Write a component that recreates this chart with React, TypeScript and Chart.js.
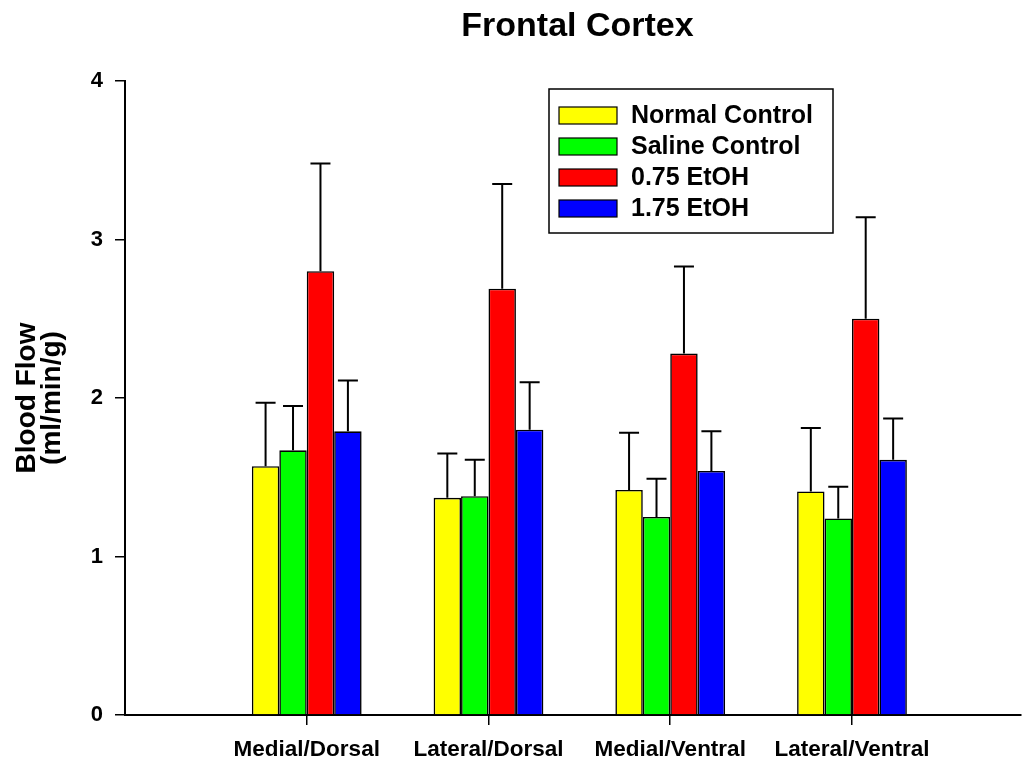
import React, { useEffect, useRef } from "react";
import { Chart, registerables } from "chart.js";

Chart.register(...registerables);

// Brain regions along the x axis and their positions on the linear index scale
const regions = ["Medial/Dorsal", "Lateral/Dorsal", "Medial/Ventral", "Lateral/Ventral"];
const regionPositions = [1, 2, 3, 4];

// Treatment groups
const groupNames = ["Normal Control", "Saline Control", "0.75 EtOH", "1.75 EtOH"];
const groupColors = ["#FFFF00", "#00FF00", "#FF0000", "#0000FF"];

// Mean blood flow (ml/min/g) per region
const normalControl = [1.57, 1.37, 1.42, 1.41];
const salineControl = [1.67, 1.38, 1.25, 1.24];
const etoh075 = [2.8, 2.69, 2.28, 2.5];
const etoh175 = [1.79, 1.8, 1.54, 1.61];

// Upper error (SEM) per region
const normalControlErr = [0.4, 0.28, 0.36, 0.4];
const salineControlErr = [0.28, 0.23, 0.24, 0.2];
const etoh075Err = [0.68, 0.66, 0.55, 0.64];
const etoh175Err = [0.32, 0.3, 0.25, 0.26];

const yTicks = [0, 1, 2, 3, 4];

const seriesValues = [normalControl, salineControl, etoh075, etoh175];
const seriesErrors = [normalControlErr, salineControlErr, etoh075Err, etoh175Err];

const FONT = "'Liberation Sans', Arial, Helvetica, sans-serif";

const titlePlugin = {
  id: "plotTitle",
  afterDraw(chart: any) {
    const { ctx } = chart;
    ctx.save();
    ctx.fillStyle = "#000";
    ctx.font = `bold 34px ${FONT}`;
    ctx.textAlign = "center";
    ctx.textBaseline = "middle";
    ctx.fillText("Frontal Cortex", 577.5, 27);
    ctx.restore();
  },
};

const errorBarPlugin = {
  id: "errorBars",
  afterDatasetsDraw(chart: any) {
    const { ctx } = chart;
    const yScale = chart.scales.y;
    chart.data.datasets.forEach((ds: any, di: number) => {
      const meta = chart.getDatasetMeta(di);
      const errs = seriesErrors[di];
      meta.data.forEach((bar: any, i: number) => {
        const top = yScale.getPixelForValue(seriesValues[di][i] + errs[i]);
        ctx.save();
        ctx.strokeStyle = "#000";
        ctx.lineWidth = 2;
        ctx.beginPath();
        ctx.moveTo(bar.x, bar.y);
        ctx.lineTo(bar.x, top);
        ctx.moveTo(bar.x - 10, top);
        ctx.lineTo(bar.x + 10, top);
        ctx.stroke();
        ctx.restore();
      });
    });
  },
};

const boxedLegendPlugin = {
  id: "boxedLegend",
  afterDraw(chart: any) {
    const { ctx } = chart;
    const left = 549;
    const top = 89;
    const width = 284;
    const height = 144;
    ctx.save();
    ctx.fillStyle = "#fff";
    ctx.fillRect(left, top, width, height);
    ctx.strokeStyle = "#000";
    ctx.lineWidth = 1.5;
    ctx.strokeRect(left, top, width, height);
    ctx.font = `bold 25px ${FONT}`;
    ctx.textAlign = "left";
    ctx.textBaseline = "middle";
    chart.data.datasets.forEach((ds: any, i: number) => {
      const cy = top + 26.5 + i * 31;
      ctx.fillStyle = ds.backgroundColor;
      ctx.fillRect(left + 10, cy - 8.5, 58, 17);
      ctx.strokeStyle = "#000";
      ctx.lineWidth = 1.2;
      ctx.strokeRect(left + 10, cy - 8.5, 58, 17);
      ctx.fillStyle = "#000";
      ctx.fillText(ds.label, left + 82, cy + 1);
    });
    ctx.restore();
  },
};

export default function App() {
  const canvasRef = useRef<HTMLCanvasElement | null>(null);

  useEffect(() => {
    const canvas = canvasRef.current;
    if (!canvas) return;

    const datasets = groupNames.map((name, gi) => ({
      label: name,
      data: regionPositions.map((x, ri) => ({ x, y: seriesValues[gi][ri] })),
      backgroundColor: groupColors[gi],
      borderColor: "#000",
      borderWidth: 1.6,
      categoryPercentage: 0.604,
      barPercentage: 1.0,
    }));

    const chart = new Chart(canvas, {
      type: "bar",
      data: { datasets },
      options: {
        animation: false,
        responsive: false,
        layout: { padding: { top: 81, right: 1, left: 0, bottom: 0 } },
        plugins: {
          legend: { display: false },
          tooltip: { enabled: false },
          title: { display: false },
        },
        scales: {
          x: {
            type: "linear",
            min: 0,
            max: 4.93,
            offset: false,
            afterBuildTicks: (scale: any) => {
              scale.ticks = regionPositions.map((v) => ({ value: v }));
            },
            afterFit: (scale: any) => {
              scale.height = 46;
            },
            ticks: {
              autoSkip: false,
              maxRotation: 0,
              color: "#000",
              padding: 11,
              font: { family: FONT, size: 22.5, weight: "bold" },
              callback: (value: any) => {
                const idx = regionPositions.indexOf(Number(value));
                return idx >= 0 ? regions[idx] : "";
              },
            },
            grid: {
              display: true,
              offset: false,
              drawOnChartArea: false,
              drawTicks: true,
              tickLength: 10,
              color: "#000",
              lineWidth: 1.5,
            },
            border: { display: true, color: "#000", width: 2 },
          },
          y: {
            type: "linear",
            min: 0,
            max: 4,
            afterBuildTicks: (scale: any) => {
              scale.ticks = yTicks.map((v) => ({ value: v }));
            },
            afterFit: (scale: any) => {
              scale.width = 125;
            },
            ticks: {
              color: "#000",
              padding: 12,
              font: { family: FONT, size: 22, weight: "bold" },
            },
            grid: {
              display: true,
              drawOnChartArea: false,
              drawTicks: true,
              tickLength: 10,
              color: "#000",
              lineWidth: 1.5,
            },
            border: { display: true, color: "#000", width: 2 },
            title: {
              display: true,
              text: ["Blood Flow", "(ml/min/g)"],
              color: "#000",
              padding: { top: 15, bottom: 0 },
              font: { family: FONT, size: 28, weight: "bold", lineHeight: "25px" },
            },
          },
        },
      },
      plugins: [errorBarPlugin, boxedLegendPlugin, titlePlugin],
    } as any);

    return () => chart.destroy();
  }, []);

  return (
    <div style={{ position: "absolute", left: 0, top: 0, width: 1022, height: 761, background: "#fff" }}>
      <canvas ref={canvasRef} width={1022} height={761} style={{ display: "block" }} />
    </div>
  );
}
